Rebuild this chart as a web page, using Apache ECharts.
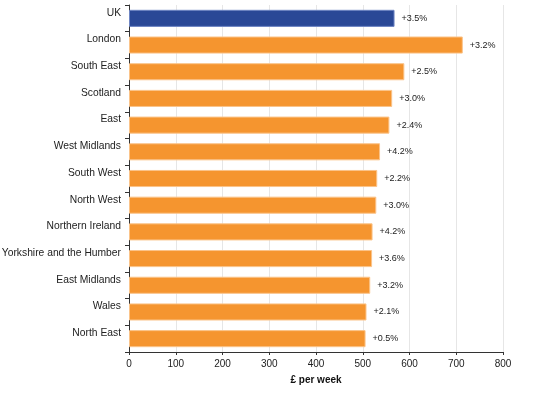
<!DOCTYPE html>
<html><head><meta charset="utf-8">
<script src="https://cdn.jsdelivr.net/npm/echarts@6/dist/echarts.min.js"></script>
<style>html,body{margin:0;padding:0;background:#fff}#c{width:542px;height:396px}</style>
</head><body><div id="c"></div>
<script>
const categories = ["UK","London","South East","Scotland","East","West Midlands","South West","North West","Northern Ireland","Yorkshire and the Humber","East Midlands","Wales","North East"];
const weeklyPay = [568,714,589,563,557,537,531,529,521,520,516,508,506];
const changes = ["+3.5%","+3.2%","+2.5%","+3.0%","+2.4%","+4.2%","+2.2%","+3.0%","+4.2%","+3.6%","+3.2%","+2.1%","+0.5%"];
const xTicks = [0,100,200,300,400,500,600,700,800];

const chart = echarts.init(document.getElementById('c'), null, {renderer:'canvas'});
chart.setOption({
  animation:false,
  grid:{left:129,right:39,top:5,bottom:44,containLabel:false,outerBoundsMode:'none'},
  xAxis:{type:'value',min:xTicks[0],max:xTicks[xTicks.length-1],interval:100,
    name:'£ per week',nameLocation:'middle',nameGap:23,
    nameTextStyle:{fontFamily:'Liberation Sans',fontSize:10,fontWeight:'bold',color:'#111'},
    axisLine:{show:true,lineStyle:{color:'#333',width:1}},
    axisTick:{show:true,length:3,lineStyle:{color:'#333'}},
    axisLabel:{fontFamily:'Liberation Sans',fontSize:10,color:'#222',margin:7},
    splitLine:{show:true,lineStyle:{color:'#e6e6e6',width:1}}},
  yAxis:{type:'category',data:categories,inverse:true,
    axisLine:{show:true,lineStyle:{color:'#333',width:1}},
    axisTick:{show:true,length:4,lineStyle:{color:'#333'}},
    axisLabel:{fontFamily:'Liberation Sans',fontSize:10.3,color:'#222',margin:8,verticalAlign:'bottom',lineHeight:11},
    splitLine:{show:false}},
  series:[{type:'bar',data:weeklyPay.map((v,i)=>({value:v,itemStyle:{color:i===0?'#2a4896':'#f5952f',borderColor:i===0?'#6f86c4':'#fbc48a',borderWidth:1}})),
    barCategoryGap:'36%',
    label:{show:true,position:'right',distance:7,fontFamily:'Liberation Sans',fontSize:9,color:'#222',
      formatter:p=>changes[p.dataIndex]}}]
});
</script></body></html>
